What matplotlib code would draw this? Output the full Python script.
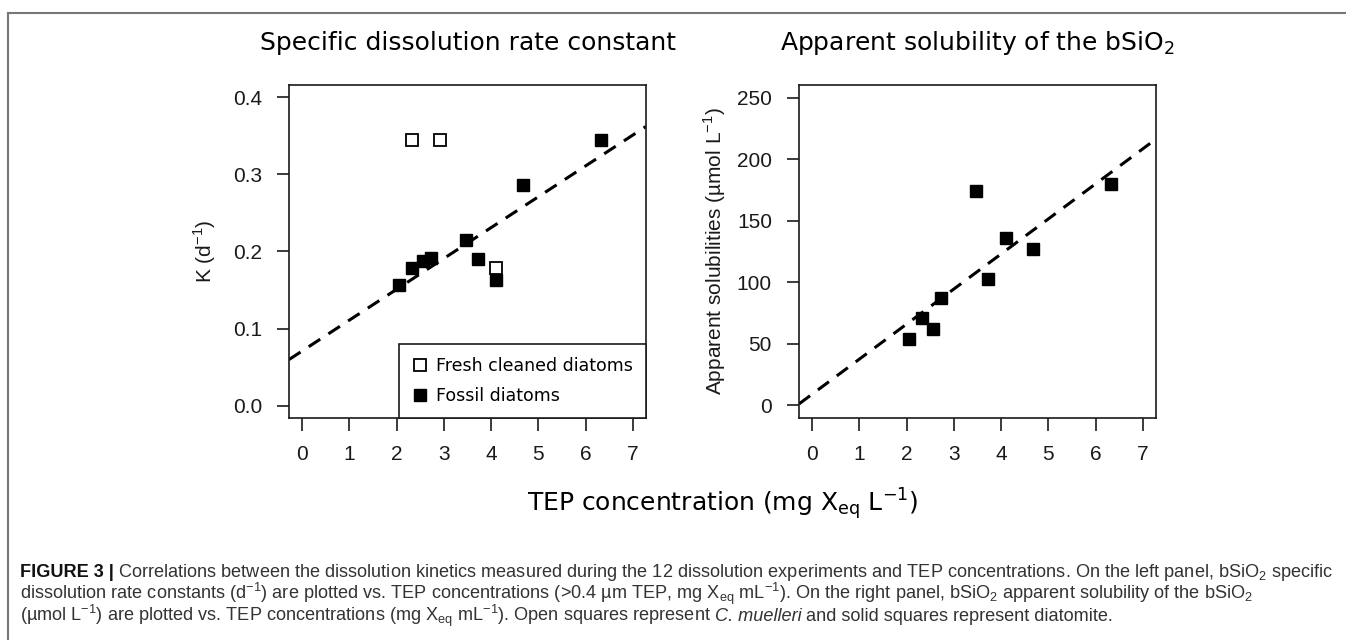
import numpy as np
import matplotlib
matplotlib.use("Agg")
import matplotlib.pyplot as plt
from matplotlib.lines import Line2D

# TEP concentration (mg Xeq L-1)
tep_fresh = [2.33, 2.91, 4.11]
k_fresh = [0.345, 0.345, 0.179]
tep_fossil = [2.05, 2.33, 2.55, 2.73, 3.47, 3.73, 4.11, 4.67, 6.33]
k_fossil = [0.156, 0.179, 0.188, 0.191, 0.215, 0.190, 0.163, 0.286, 0.345]
solub_fossil = [53.6, 70.7, 61.8, 86.9, 174.2, 102.4, 136.2, 126.8, 179.6]

# regression line of K vs TEP (as drawn)
k_fit_intercept = 0.071
k_fit_slope = 0.040

x_ticks = [0, 1, 2, 3, 4, 5, 6, 7]
k_ticks = [0.0, 0.1, 0.2, 0.3, 0.4]
solub_ticks = [0, 50, 100, 150, 200, 250]

W, H = 1346, 640
fig = plt.figure(figsize=(W / 100, H / 100), dpi=100)

tick_font = "Liberation Sans"
dash = (0, (4.5, 3.2))


def px(x0, y0, x1, y1):
    return [x0 / W, 1 - y1 / H, (x1 - x0) / W, (y1 - y0) / H]


def style_axes(ax, yticks, ylim):
    ax.set_xlim(-0.28, 7.28)
    ax.set_ylim(ylim)
    ax.set_xticks(x_ticks)
    ax.set_yticks(yticks)
    ax.tick_params(direction="out", length=9, width=1.2, pad=10.5,
                   labelsize=15, colors="#1a1a1a")
    for lab in ax.get_xticklabels() + ax.get_yticklabels():
        lab.set_family(tick_font)
    for s in ax.spines.values():
        s.set_linewidth(1.2)
        s.set_color("#1a1a1a")


# left panel
ax1 = fig.add_axes(px(289, 85, 646, 418))
ax1.axline((0, k_fit_intercept), slope=k_fit_slope, color="black",
           lw=2.2, linestyle=dash, zorder=1)
ax1.plot(tep_fossil, k_fossil, "s", color="black", ms=8.8, zorder=3)
ax1.plot(tep_fresh, k_fresh, "s", mfc="white", mec="black", mew=1.3,
         ms=8.8, zorder=3)
style_axes(ax1, k_ticks, (-0.016, 0.416))
ax1.set_yticklabels(["%.1f" % v for v in k_ticks])
ax1.set_ylabel(r"K (d$^{\mathregular{-1}}$)", family=tick_font,
               fontsize=15, color="#1a1a1a")
ax1.yaxis.set_label_coords(-0.2, 0.5)
ax1.set_title("Specific dissolution rate constant", fontsize=18,
              family="DejaVu Sans", pad=25)

handles = [
    Line2D([], [], ls="none", marker="s", mfc="white", mec="black",
           mew=1.3, ms=9),
    Line2D([], [], ls="none", marker="s", color="black", ms=9),
]
leg = ax1.legend(handles, ["Fresh cleaned diatoms", "Fossil diatoms"],
                 loc="lower right", bbox_to_anchor=(1.0, 0.0),
                 borderaxespad=0, fancybox=False, framealpha=1,
                 edgecolor="#1a1a1a", prop={"family": "DejaVu Sans", "size": 12.5},
                 handletextpad=0.4, borderpad=0.75, labelspacing=0.7,
                 handlelength=1.0)
leg.get_frame().set_linewidth(1.2)

# right panel
ax2 = fig.add_axes(px(799, 85, 1156, 418))
b, a = np.polyfit(tep_fossil, solub_fossil, 1)
ax2.axline((0, a), slope=b, color="black", lw=2.2, linestyle=dash, zorder=1)
ax2.plot(tep_fossil, solub_fossil, "s", color="black", ms=8.8, zorder=3)
style_axes(ax2, solub_ticks, (-10.4, 260.4))
ax2.set_ylabel(r"Apparent solubilities (µmol L$^{\mathregular{-1}}$)",
               family=tick_font, fontsize=15, color="#1a1a1a")
ax2.yaxis.set_label_coords(-0.2, 0.5)
ax2.set_title(r"Apparent solubility of the bSiO$_2$", fontsize=18,
              family="DejaVu Sans", pad=25)

fig.text(723 / W, 1 - 504 / H,
         r"TEP concentration (mg X$_{\mathregular{eq}}$ L$^{\mathregular{-1}}$)",
         ha="center", va="center", fontsize=18, family="DejaVu Sans")

# frame lines (top and left)
fig.add_artist(Line2D([7.5 / W, 1], [1 - 12.5 / H, 1 - 12.5 / H], color="#777777",
                      lw=1.5, transform=fig.transFigure))
fig.add_artist(Line2D([7.5 / W, 7.5 / W], [1 - 12.5 / H, 0], color="#777777",
                      lw=1.5, transform=fig.transFigure))

# caption, written piece by piece (text, weight, style, gap after in px)
cap_font = ["Liberation Sans Narrow", "Liberation Sans", "DejaVu Sans"]
cap_size = 13.1
sub2 = r"$_{\mathregular{2}}$"
inv = r"$^{\mathregular{-1}}$"
xeq = r"X$_{\mathregular{eq}}$"
cap_lines = [
    [("FIGURE 3 |", "bold", "normal", 4),
     ("Correlations between the dissolution kinetics measured during the 12 dissolution "
      "experiments and TEP concentrations. On the left panel, bSiO" + sub2 + " specific",
      "normal", "normal", 0)],
    [("dissolution rate constants (d" + inv + ") are plotted vs. TEP concentrations "
      "(>0.4 µm TEP, mg " + xeq + " mL" + inv + "). On the right panel, bSiO" + sub2 +
      " apparent solubility of the bSiO" + sub2, "normal", "normal", 0)],
    [("(µmol L" + inv + ") are plotted vs. TEP concentrations (mg " + xeq + " mL" + inv +
      "). Open squares represent", "normal", "normal", 4),
     ("C. muelleri", "normal", "italic", 4),
     ("and solid squares represent diatomite.", "normal", "normal", 0)],
]
cap_base = [577, 599, 621]

renderer = fig.canvas.get_renderer()
for pieces, yb in zip(cap_lines, cap_base):
    xpos = 20
    for txt, weight, style, gap in pieces:
        t = fig.text(xpos / W, 1 - yb / H, txt, fontsize=cap_size, family=cap_font,
                     fontweight=weight, fontstyle=style, va="baseline",
                     color="#111111" if weight == "bold" else "#333333")
        xpos = t.get_window_extent(renderer).x1 + gap

fig.savefig("out.png", dpi=100, facecolor="white")
